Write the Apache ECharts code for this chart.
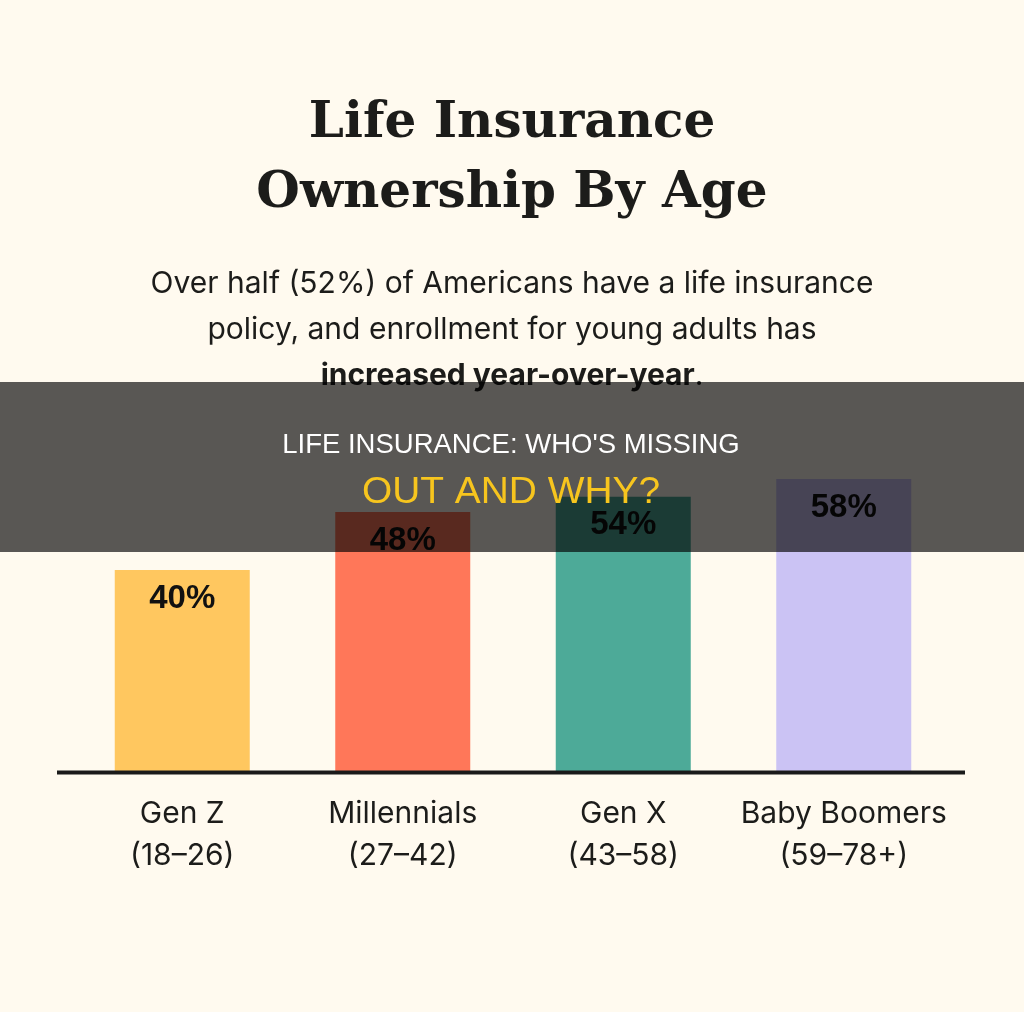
<!DOCTYPE html>
<html>
<head>
<meta charset="utf-8">
<script src="https://cdn.jsdelivr.net/npm/echarts@6/dist/echarts.min.js"></script>
<style>
html,body{margin:0;padding:0;background:#FFFAEF;}
#c{width:1024px;height:1012px;}
</style>
</head>
<body>
<div id="c"></div>
<script>
// Data
const categories = ['Gen Z', 'Millennials', 'Gen X', 'Baby Boomers'];
const ageRanges = ['(18–26)', '(27–42)', '(43–58)', '(59–78+)'];
const barHeights = [40, 51.5, 54.5, 58];          // bar heights as drawn
const valueLabels = ['40%', '48%', '54%', '58%'];  // labels printed on the bars
const barColors = ['#FFC75F', '#FF7759', '#4DAA98', '#CBC3F4'];

const chart = echarts.init(document.getElementById('c'));
const sans = 'Inter, "Noto Sans", sans-serif';

chart.setOption({
  backgroundColor: '#FFFAEF',
  animation: false,
  title: [
    {
      text: 'Life Insurance\nOwnership By Age',
      left: 'center',
      top: 84,
      textStyle: {
        fontFamily: '"DejaVu Serif", "Liberation Serif", serif',
        fontWeight: 'bold',
        fontSize: 50,
        lineHeight: 70,
        color: '#1c1c1a'
      }
    },
    {
      text: '{r|Over half (52%) of Americans have a life insurance}\n{r|policy, and enrollment for young adults has}\n{b|increased year-over-year}{r|.}',
      left: 'center',
      top: 256,
      textStyle: {
        fontWeight: 'normal',
        fontFamily: sans,
        fontSize: 30,
        lineHeight: 46,
        color: '#1c1c1a',
        rich: {
          r: { fontFamily: sans, fontSize: 30, lineHeight: 46, fontWeight: 'normal', color: '#1c1c1a' },
          b: { fontFamily: sans, fontSize: 30, lineHeight: 46, fontWeight: 'bold', color: '#1c1c1a' }
        }
      }
    }
  ],
  grid: { left: 72, right: 70, top: 267, bottom: 240, containLabel: false },
  xAxis: {
    type: 'category',
    data: categories,
    axisLine: { show: false },
    axisTick: { show: false },
    axisLabel: {
      interval: 0,
      margin: 21,
      fontFamily: sans,
      fontSize: 30,
      lineHeight: 42,
      color: '#1c1c1a',
      formatter: function (v, i) { return v + '\n' + ageRanges[i]; }
    }
  },
  yAxis: {
    type: 'value',
    min: 0,
    max: 100,
    show: false,
    splitLine: { show: false }
  },
  series: [{
    type: 'bar',
    barWidth: 135,
    data: barHeights.map((v, i) => ({ value: v, itemStyle: { color: barColors[i] } })),
    label: {
      show: true,
      position: 'insideTop',
      distance: 12,
      fontFamily: '"Liberation Sans", Arial, sans-serif',
      fontWeight: 'bold',
      fontSize: 33,
      color: '#111',
      formatter: p => valueLabels[p.dataIndex]
    }
  }],
  graphic: [
    {
      type: 'line',
      z: 50,
      shape: { x1: 57, y1: 772.5, x2: 965, y2: 772.5 },
      style: { stroke: '#1a1a1a', lineWidth: 4 }
    },
    {
      type: 'rect',
      z: 100,
      shape: { x: 0, y: 382, width: 1024, height: 170 },
      style: { fill: 'rgba(0,0,0,0.65)' }
    },
    {
      type: 'text',
      z: 101,
      x: 511, y: 445,
      style: {
        text: "LIFE INSURANCE: WHO'S MISSING",
        fill: '#ffffff',
        font: '27.5px "Liberation Sans", Arial, sans-serif',
        textAlign: 'center',
        textVerticalAlign: 'middle'
      }
    },
    {
      type: 'text',
      z: 101,
      x: 511, y: 493,
      scaleX: 1.08,
      style: {
        text: 'OUT AND WHY?',
        fill: '#F7C51E',
        font: '36px "Liberation Sans", Arial, sans-serif',
        textAlign: 'center',
        textVerticalAlign: 'middle'
      }
    }
  ]
});
</script>
</body>
</html>
